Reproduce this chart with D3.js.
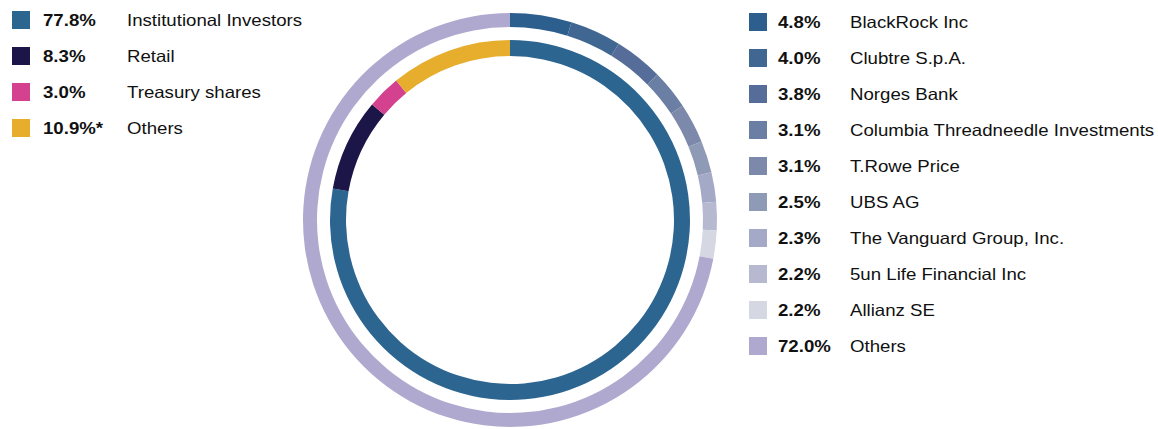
<!DOCTYPE html>
<html>
<head>
<meta charset="utf-8">
<script src="https://cdn.jsdelivr.net/npm/d3@7"></script>
<style>
  body { margin: 0; background: #fff; }
  text { font-family: "Liberation Sans", Arial, sans-serif; fill: #111; }
</style>
</head>
<body>
<svg id="chart" width="1158" height="429"></svg>
<script>
// shareholder structure (inner ring)
const holderNames = ["Institutional Investors", "Retail", "Treasury shares", "Others"];
const holderValues = [77.8, 8.3, 3.0, 10.9];
const holderLabels = ["77.8%", "8.3%", "3.0%", "10.9%*"];
const holderColors = ["#2d6591", "#1c1548", "#d3418f", "#e6ae2c"];

// main institutional investors (outer ring)
const investorNames = ["BlackRock Inc", "Clubtre S.p.A.", "Norges Bank", "Columbia Threadneedle Investments",
    "T.Rowe Price", "UBS AG", "The Vanguard Group, Inc.", "5un Life Financial Inc", "Allianz SE", "Others"];
const investorValues = [4.8, 4.0, 3.8, 3.1, 3.1, 2.5, 2.3, 2.2, 2.2, 72.0];
const investorLabels = ["4.8%", "4.0%", "3.8%", "3.1%", "3.1%", "2.5%", "2.3%", "2.2%", "2.2%", "72.0%"];
const investorColors = ["#2c5e8e", "#3f6791", "#566d9a", "#6a7fa3", "#7c89ab", "#8f9bb6",
    "#a4a9c8", "#b6b9d0", "#d5d7e3", "#b0a9cf"];

const svg = d3.select("#chart");
const cx = 510, cy = 220;

const pie = d3.pie().sort(null).value(d => d.value);

function drawRing(names, values, colors, r0, r1) {
    const data = names.map((n, i) => ({name: n, value: values[i], color: colors[i]}));
    const arc = d3.arc().innerRadius(r0).outerRadius(r1);
    svg.append("g")
        .attr("transform", "translate(" + cx + "," + cy + ")")
        .selectAll("path")
        .data(pie(data))
        .join("path")
        .attr("d", arc)
        .attr("fill", d => d.data.color);
}

drawRing(holderNames, holderValues, holderColors, 164, 180);
drawRing(investorNames, investorValues, investorColors, 193, 207);

// the source text is a bit wider than plain Arial
const stretch = 1.13;

function drawLegend(names, labels, colors, opts) {
    const y = d3.scalePoint().domain(names).range([opts.y0, opts.y1]);
    const g = svg.append("g");
    const row = g.selectAll("g")
        .data(names)
        .join("g")
        .attr("transform", d => "translate(0," + y(d) + ")");

    row.append("rect")
        .attr("x", opts.sx)
        .attr("y", -9)
        .attr("width", 18)
        .attr("height", 18)
        .attr("fill", (d, i) => colors[i]);

    row.append("text")
        .attr("transform", "translate(" + opts.px + ",0) scale(" + stretch + ",1)")
        .attr("dy", "0.36em")
        .style("font-size", "16.5px")
        .style("font-weight", "bold")
        .text((d, i) => labels[i]);

    row.append("text")
        .attr("transform", "translate(" + opts.lx + ",0) scale(" + stretch + ",1)")
        .attr("dy", "0.36em")
        .style("font-size", "16.5px")
        .text(d => d);
}

drawLegend(holderNames, holderLabels, holderColors, {sx: 12, px: 43, lx: 127, y0: 20, y1: 128});
drawLegend(investorNames, investorLabels, investorColors, {sx: 749, px: 778, lx: 850, y0: 22, y1: 346});
</script>
</body>
</html>
